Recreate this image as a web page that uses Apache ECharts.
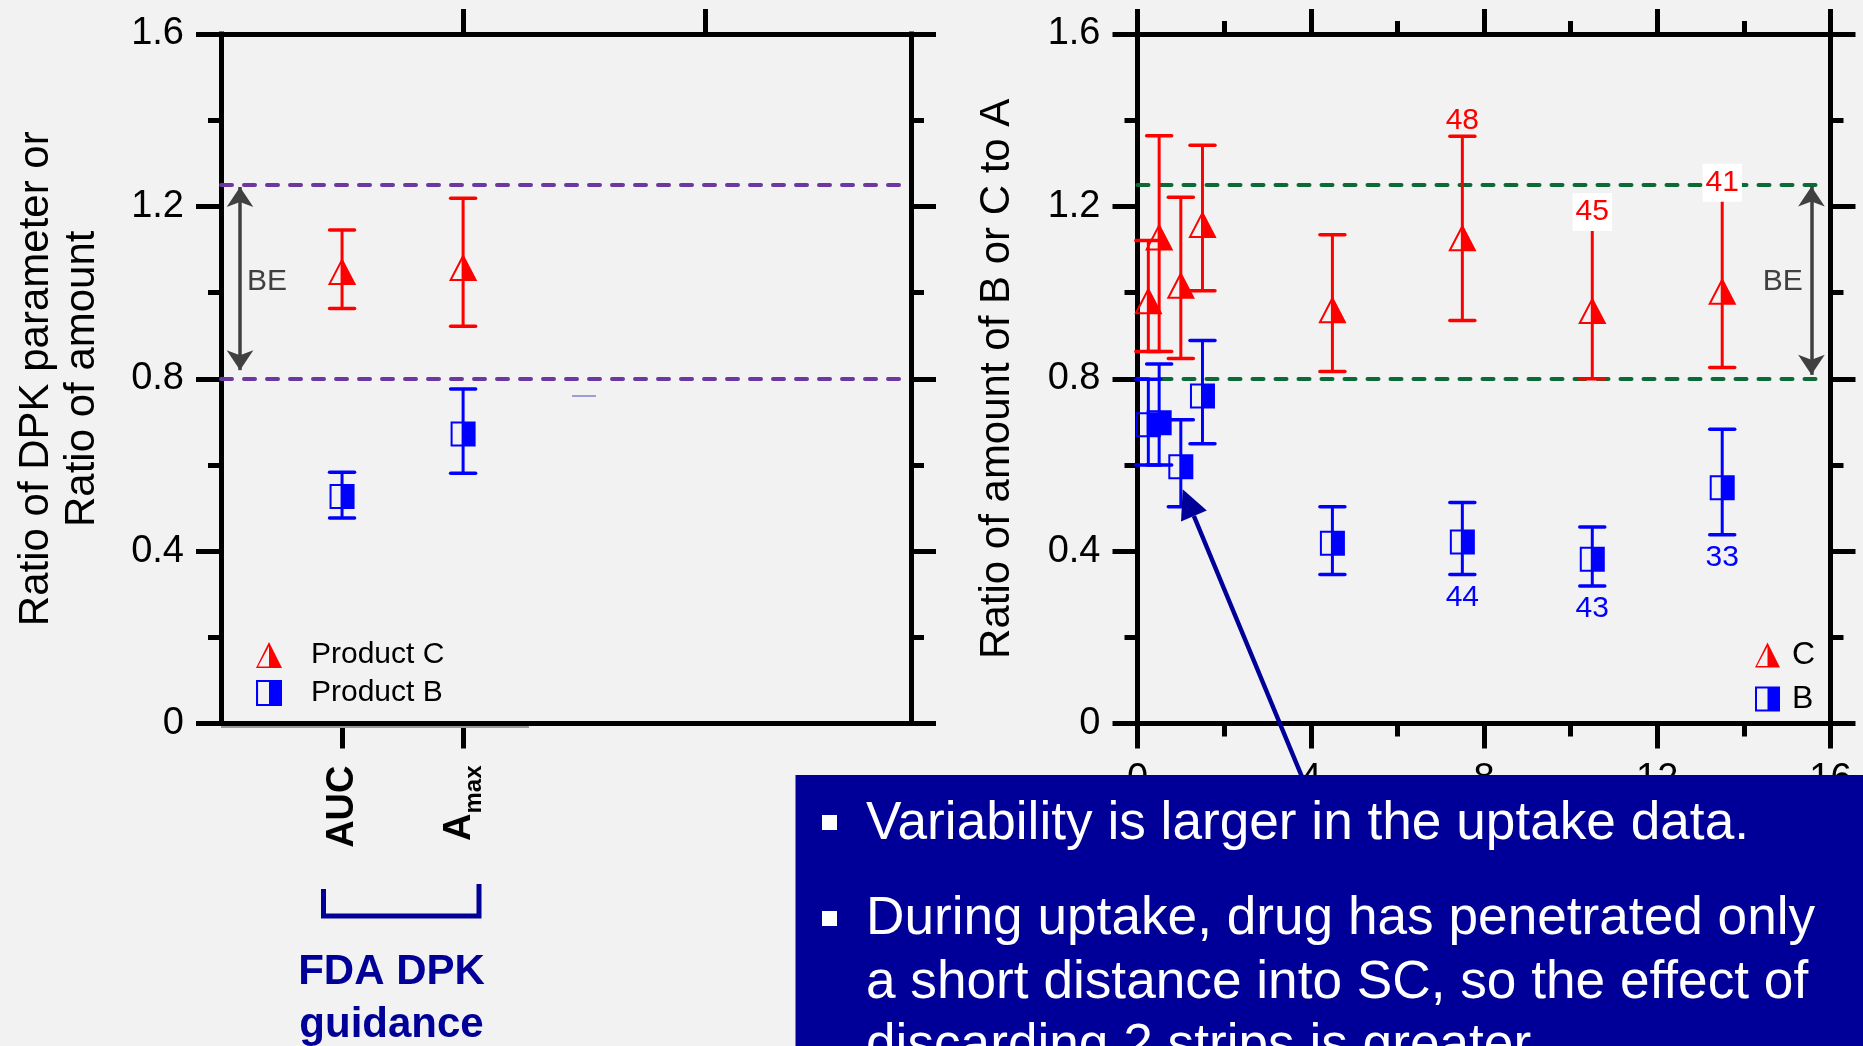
<!DOCTYPE html>
<html>
<head>
<meta charset="utf-8">
<title>Ratio of B or C to A</title>
<script src="https://cdn.jsdelivr.net/npm/echarts@6.0.0/dist/echarts.min.js"></script>
<style>
  html, body { margin: 0; padding: 0; background: #f2f2f2; }
  #chart { width: 1863px; height: 1046px; }
</style>
</head>
<body>
<div id="chart"></div>
<script>
// left panel: FDA DPK parameters, x is just the slot of each parameter
const dpkSlots = [1, 2];
const dpkNames = ['AUC', 'Amax'];
const dpkC = [1.048, 1.057];
const dpkCLow = [0.963, 0.922];
const dpkCHigh = [1.145, 1.219];
const dpkB = [0.527, 0.672];
const dpkBLow = [0.477, 0.581];
const dpkBHigh = [0.583, 0.776];

// right panel: uptake time
const uptakeTime = [0.25, 0.5, 1, 1.5, 4.5, 7.5, 10.5, 13.5];
const uptakeC = [0.980, 1.128, 1.016, 1.157, 0.959, 1.126, 0.957, 1.002];
const uptakeCLow = [0.863, 0.863, 0.847, 1.004, 0.817, 0.935, 0.800, 0.826];
const uptakeCHigh = [1.121, 1.364, 1.221, 1.342, 1.134, 1.363, 1.152, 1.220];
const uptakeB = [0.693, 0.698, 0.596, 0.760, 0.418, 0.421, 0.381, 0.547];
const uptakeBLow = [0.600, 0.600, 0.503, 0.649, 0.346, 0.346, 0.319, 0.438];
const uptakeBHigh = [0.799, 0.834, 0.705, 0.889, 0.503, 0.513, 0.456, 0.683];
const uptakeCLabels = ['', '', '', '', '', '48', '45', '41'];
const uptakeBLabels = ['', '', '', '', '', '44', '43', '33'];
const boxedLabels = ['45', '41'];

const yTicks = ['0', '0.4', '0.8', '1.2', '1.6'];
const timeTicks = ['0', '4', '8', '12', '16'];
const beLimits = [0.8, 1.25];

const FONT = '"Liberation Sans", Arial, Helvetica, sans-serif';
const RED = '#ff0000';
const BLUE = '#0000ff';
const NAVY = '#000099';
const PURPLE = '#6a38a0';
const GREEN = '#0b6a35';
const GREY = '#404040';

const triIcon = 'path://M50,0 L100,100 L0,100 Z M50,16 L8,94 L50,94 Z';
const sqIcon = 'path://M0,0 L100,0 L100,100 L0,100 Z M8,8 L8,92 L50,92 L50,8 Z';

const rows = (xs, mid, lo, hi) => xs.map((x, i) => [x, mid[i], lo[i], hi[i]]);

// error bar + half filled marker, drawn through the axes
function errorMarker(shape, color, labels, below) {
  return function (params, api) {
    const x = api.value(0);
    const c = api.coord([x, api.value(1)]);
    const lo = api.coord([x, api.value(2)]);
    const hi = api.coord([x, api.value(3)]);
    const cap = 12.5;
    const kids = [
      { type: 'line', shape: { x1: c[0], y1: hi[1], x2: c[0], y2: lo[1] }, style: { stroke: color, lineWidth: 3 } },
      { type: 'line', shape: { x1: c[0] - cap, y1: hi[1], x2: c[0] + cap, y2: hi[1] }, style: { stroke: color, lineWidth: 3.5, lineCap: 'round' } },
      { type: 'line', shape: { x1: c[0] - cap, y1: lo[1], x2: c[0] + cap, y2: lo[1] }, style: { stroke: color, lineWidth: 3.5, lineCap: 'round' } }
    ];
    if (shape === 'triangle') {
      const top = c[1] - 12, base = c[1] + 12, hw = 12.5;
      kids.push({ type: 'polygon', shape: { points: [[c[0], top], [c[0] + hw, base], [c[0] - hw, base]] }, style: { fill: 'none', stroke: color, lineWidth: 2 } });
      kids.push({ type: 'polygon', shape: { points: [[c[0], top], [c[0] + hw, base], [c[0], base]] }, style: { fill: color } });
    } else {
      const h = 11.5;
      kids.push({ type: 'rect', shape: { x: c[0] - h, y: c[1] - h, width: 2 * h, height: 2 * h }, style: { fill: 'none', stroke: color, lineWidth: 2 } });
      kids.push({ type: 'rect', shape: { x: c[0], y: c[1] - h, width: h, height: 2 * h }, style: { fill: color } });
    }
    const txt = labels && labels[params.dataIndex];
    if (txt) {
      kids.push({
        type: 'text', x: c[0], y: below ? lo[1] + 23 : hi[1] - 15,
        style: {
          text: txt, fill: color, fontSize: 30, fontFamily: FONT, align: 'center', verticalAlign: 'middle',
          backgroundColor: boxedLabels.includes(txt) ? '#ffffff' : null, padding: [4, 3]
        }
      });
    }
    return { type: 'group', children: kids };
  };
}

const axisLine = { show: true, onZero: false, lineStyle: { color: '#000', width: 5, cap: 'square' } };
const tickStyle = { color: '#000', width: 5 };

function yAxisCfg(grid, pos, name, gap) {
  return {
    type: 'value', gridIndex: grid, position: pos, min: 0, max: 1.6, interval: 0.4,
    axisLine: axisLine,
    axisTick: { show: true, length: 25, lineStyle: tickStyle },
    minorTick: { show: true, splitNumber: 2, length: 13, lineStyle: tickStyle },
    splitLine: { show: false },
    axisLabel: {
      show: pos === 'left', margin: 37, fontSize: 38, color: '#000', fontFamily: FONT,
      formatter: v => yTicks[Math.round(v / 0.4)]
    },
    name: name || '', nameLocation: 'middle', nameGap: gap || 0, nameRotate: 90,
    nameTextStyle: { fontSize: 42, lineHeight: 46, color: '#000', fontFamily: FONT }
  };
}

function timeAxisCfg(pos) {
  return {
    type: 'value', gridIndex: 1, position: pos, min: 0, max: 16, interval: 4,
    axisLine: axisLine,
    axisTick: { show: true, length: 25, lineStyle: tickStyle },
    minorTick: { show: true, splitNumber: 2, length: 13, lineStyle: tickStyle },
    splitLine: { show: false },
    axisLabel: {
      show: pos === 'bottom', margin: 37, fontSize: 38, color: '#000', fontFamily: FONT,
      formatter: v => timeTicks[Math.round(v / 4)]
    }
  };
}

const chart = echarts.init(document.getElementById('chart'));

chart.setOption({
  backgroundColor: '#f2f2f2',
  animation: false,
  textStyle: { fontFamily: FONT },
  grid: [
    { left: 221, top: 34, width: 690, height: 689.5, containLabel: false, outerBoundsMode: 'none' },
    { left: 1137.5, top: 34, width: 693, height: 689.5, containLabel: false, outerBoundsMode: 'none' }
  ],
  xAxis: [
    {
      type: 'value', gridIndex: 0, position: 'bottom', min: 0, max: 5.7,
      axisLine: axisLine,
      axisTick: { show: true, length: 25, customValues: dpkSlots, lineStyle: tickStyle },
      splitLine: { show: false },
      axisLabel: {
        show: true, customValues: dpkSlots, rotate: 90, margin: 42,
        formatter: v => dpkNames[dpkSlots.indexOf(v)] === 'Amax' ? '{a|A}{s|max}' : '{u|' + dpkNames[dpkSlots.indexOf(v)] + '}',
        rich: {
          u: { fontSize: 38, fontWeight: 'bold', color: '#000', fontFamily: FONT },
          a: { fontSize: 38, fontWeight: 'bold', color: '#000', fontFamily: FONT, padding: [0, 0, 8, 0] },
          s: { fontSize: 24, fontWeight: 'bold', color: '#000', fontFamily: FONT, verticalAlign: 'bottom' }
        }
      }
    },
    {
      type: 'value', gridIndex: 0, position: 'top', min: 0, max: 5.7,
      axisLine: axisLine,
      axisTick: { show: true, length: 25, customValues: [2, 4], lineStyle: tickStyle },
      splitLine: { show: false },
      axisLabel: { show: false }
    },
    timeAxisCfg('bottom'),
    timeAxisCfg('top')
  ],
  yAxis: [
    yAxisCfg(0, 'left', 'Ratio of DPK parameter or\nRatio of amount', 116),
    yAxisCfg(0, 'right'),
    yAxisCfg(1, 'left', 'Ratio of amount of B or C to A', 117),
    yAxisCfg(1, 'right')
  ],
  legend: [
    {
      data: [{ name: 'Product C', icon: triIcon }, { name: 'Product B', icon: sqIcon }],
      orient: 'vertical', left: 256, top: 640, padding: 0, itemWidth: 26, itemHeight: 26, itemGap: 8,
      selectedMode: false,
      textStyle: { fontSize: 30, color: '#000', fontFamily: FONT, padding: [0, 0, 0, 24] }
    },
    {
      data: [{ name: 'C', icon: triIcon }, { name: 'B', icon: sqIcon }],
      orient: 'vertical', left: 1755, top: 639, padding: 0, itemWidth: 25, itemHeight: 25, itemGap: 12,
      selectedMode: false,
      textStyle: { fontSize: 32, color: '#000', fontFamily: FONT, padding: [0, 0, 0, 7] }
    }
  ],
  series: [
    {
      name: 'Product C', type: 'custom', xAxisIndex: 0, yAxisIndex: 0, clip: false, z: 5,
      itemStyle: { color: RED },
      renderItem: errorMarker('triangle', RED),
      data: rows(dpkSlots, dpkC, dpkCLow, dpkCHigh),
      markLine: {
        silent: true, symbol: ['none', 'none'], label: { show: false },
        lineStyle: { color: PURPLE, width: 4, type: [11, 12], cap: 'round' },
        data: beLimits.map(v => [{ coord: [0, v] }, { coord: [5.64, v] }])
      }
    },
    {
      name: 'Product B', type: 'custom', xAxisIndex: 0, yAxisIndex: 0, clip: false, z: 5,
      itemStyle: { color: BLUE },
      renderItem: errorMarker('square', BLUE),
      data: rows(dpkSlots, dpkB, dpkBLow, dpkBHigh),
      markLine: {
        silent: true, symbol: ['arrow', 'arrow'], symbolSize: 20, label: { show: false },
        lineStyle: { color: GREY, width: 3.5, type: 'solid' },
        data: [[{ coord: [0.157, 1.245] }, { coord: [0.157, 0.82] }]]
      },
      markPoint: {
        silent: true, symbolSize: 0,
        label: { show: true, formatter: 'BE', fontSize: 30, color: GREY, fontFamily: FONT },
        data: [{ coord: [0.38, 1.024] }]
      }
    },
    {
      name: 'C', type: 'custom', xAxisIndex: 2, yAxisIndex: 2, clip: false, z: 5,
      itemStyle: { color: RED },
      renderItem: errorMarker('triangle', RED, uptakeCLabels, false),
      data: rows(uptakeTime, uptakeC, uptakeCLow, uptakeCHigh),
      markLine: {
        silent: true, symbol: ['none', 'none'], label: { show: false },
        lineStyle: { color: GREEN, width: 4, type: [11, 12], cap: 'round' },
        data: beLimits.map(v => [{ coord: [0, v] }, { coord: [15.77, v] }])
      }
    },
    {
      name: 'B', type: 'custom', xAxisIndex: 2, yAxisIndex: 2, clip: false, z: 5,
      itemStyle: { color: BLUE },
      renderItem: errorMarker('square', BLUE, uptakeBLabels, true),
      data: rows(uptakeTime, uptakeB, uptakeBLow, uptakeBHigh),
      markLine: {
        silent: true, symbol: ['arrow', 'arrow'], symbolSize: 20, label: { show: false },
        lineStyle: { color: GREY, width: 3.5, type: 'solid' },
        data: [[{ coord: [15.56, 1.246] }, { coord: [15.56, 0.809] }]]
      },
      markPoint: {
        silent: true, symbolSize: 0,
        label: { show: true, formatter: 'BE', fontSize: 30, color: GREY, fontFamily: FONT },
        data: [{ coord: [14.9, 1.024] }]
      }
    }
  ],
  graphic: [
    // stray marks of the original slide
    { type: 'line', z: 1, shape: { x1: 221, y1: 727, x2: 529, y2: 727 }, style: { stroke: '#9a9a9a', lineWidth: 2 } },
    { type: 'line', z: 1, shape: { x1: 572, y1: 396, x2: 596, y2: 396 }, style: { stroke: '#7f7fd0', lineWidth: 1.5 } },
    // bracket under the DPK parameters
    { type: 'polyline', z: 10, shape: { points: [[323.5, 889], [323.5, 916], [479, 916], [479, 884]] }, style: { stroke: NAVY, lineWidth: 5, fill: null } },
    { type: 'text', z: 10, x: 391.5, y: 972, style: { text: 'FDA DPK', fontSize: 42, fontWeight: 'bold', fontFamily: FONT, fill: NAVY, align: 'center', verticalAlign: 'middle' } },
    { type: 'text', z: 10, x: 391.5, y: 1025, style: { text: 'guidance', fontSize: 42, fontWeight: 'bold', fontFamily: FONT, fill: NAVY, align: 'center', verticalAlign: 'middle' } },
    // arrow pointing at the early uptake point
    { type: 'line', z: 90, shape: { x1: 1303.3, y1: 780, x2: 1193.9, y2: 516 }, style: { stroke: NAVY, lineWidth: 4.5 } },
    { type: 'polygon', z: 90, shape: { points: [[1182.7, 489.3], [1206.8, 510.6], [1181, 521.4]] }, style: { fill: NAVY } },
    // message box
    { type: 'rect', z: 100, shape: { x: 795.5, y: 775, width: 1070, height: 275 }, style: { fill: NAVY } },
    { type: 'rect', z: 101, shape: { x: 822, y: 815, width: 15, height: 15 }, style: { fill: '#ffffff' } },
    { type: 'rect', z: 101, shape: { x: 822, y: 911, width: 15, height: 15 }, style: { fill: '#ffffff' } },
    { type: 'text', z: 101, x: 866, y: 824, style: { text: 'Variability is larger in the uptake data.', fontSize: 53.2, fontFamily: FONT, fill: '#ffffff', verticalAlign: 'middle' } },
    { type: 'text', z: 101, x: 866, y: 919, style: { text: 'During uptake, drug has penetrated only', fontSize: 53.2, fontFamily: FONT, fill: '#ffffff', verticalAlign: 'middle' } },
    { type: 'text', z: 101, x: 866, y: 983, style: { text: 'a short distance into SC, so the effect of', fontSize: 53.2, fontFamily: FONT, fill: '#ffffff', verticalAlign: 'middle' } },
    { type: 'text', z: 101, x: 866, y: 1046, style: { text: 'discarding 2 strips is greater.', fontSize: 53.2, fontFamily: FONT, fill: '#ffffff', verticalAlign: 'middle' } }
  ]
});
</script>
</body>
</html>
